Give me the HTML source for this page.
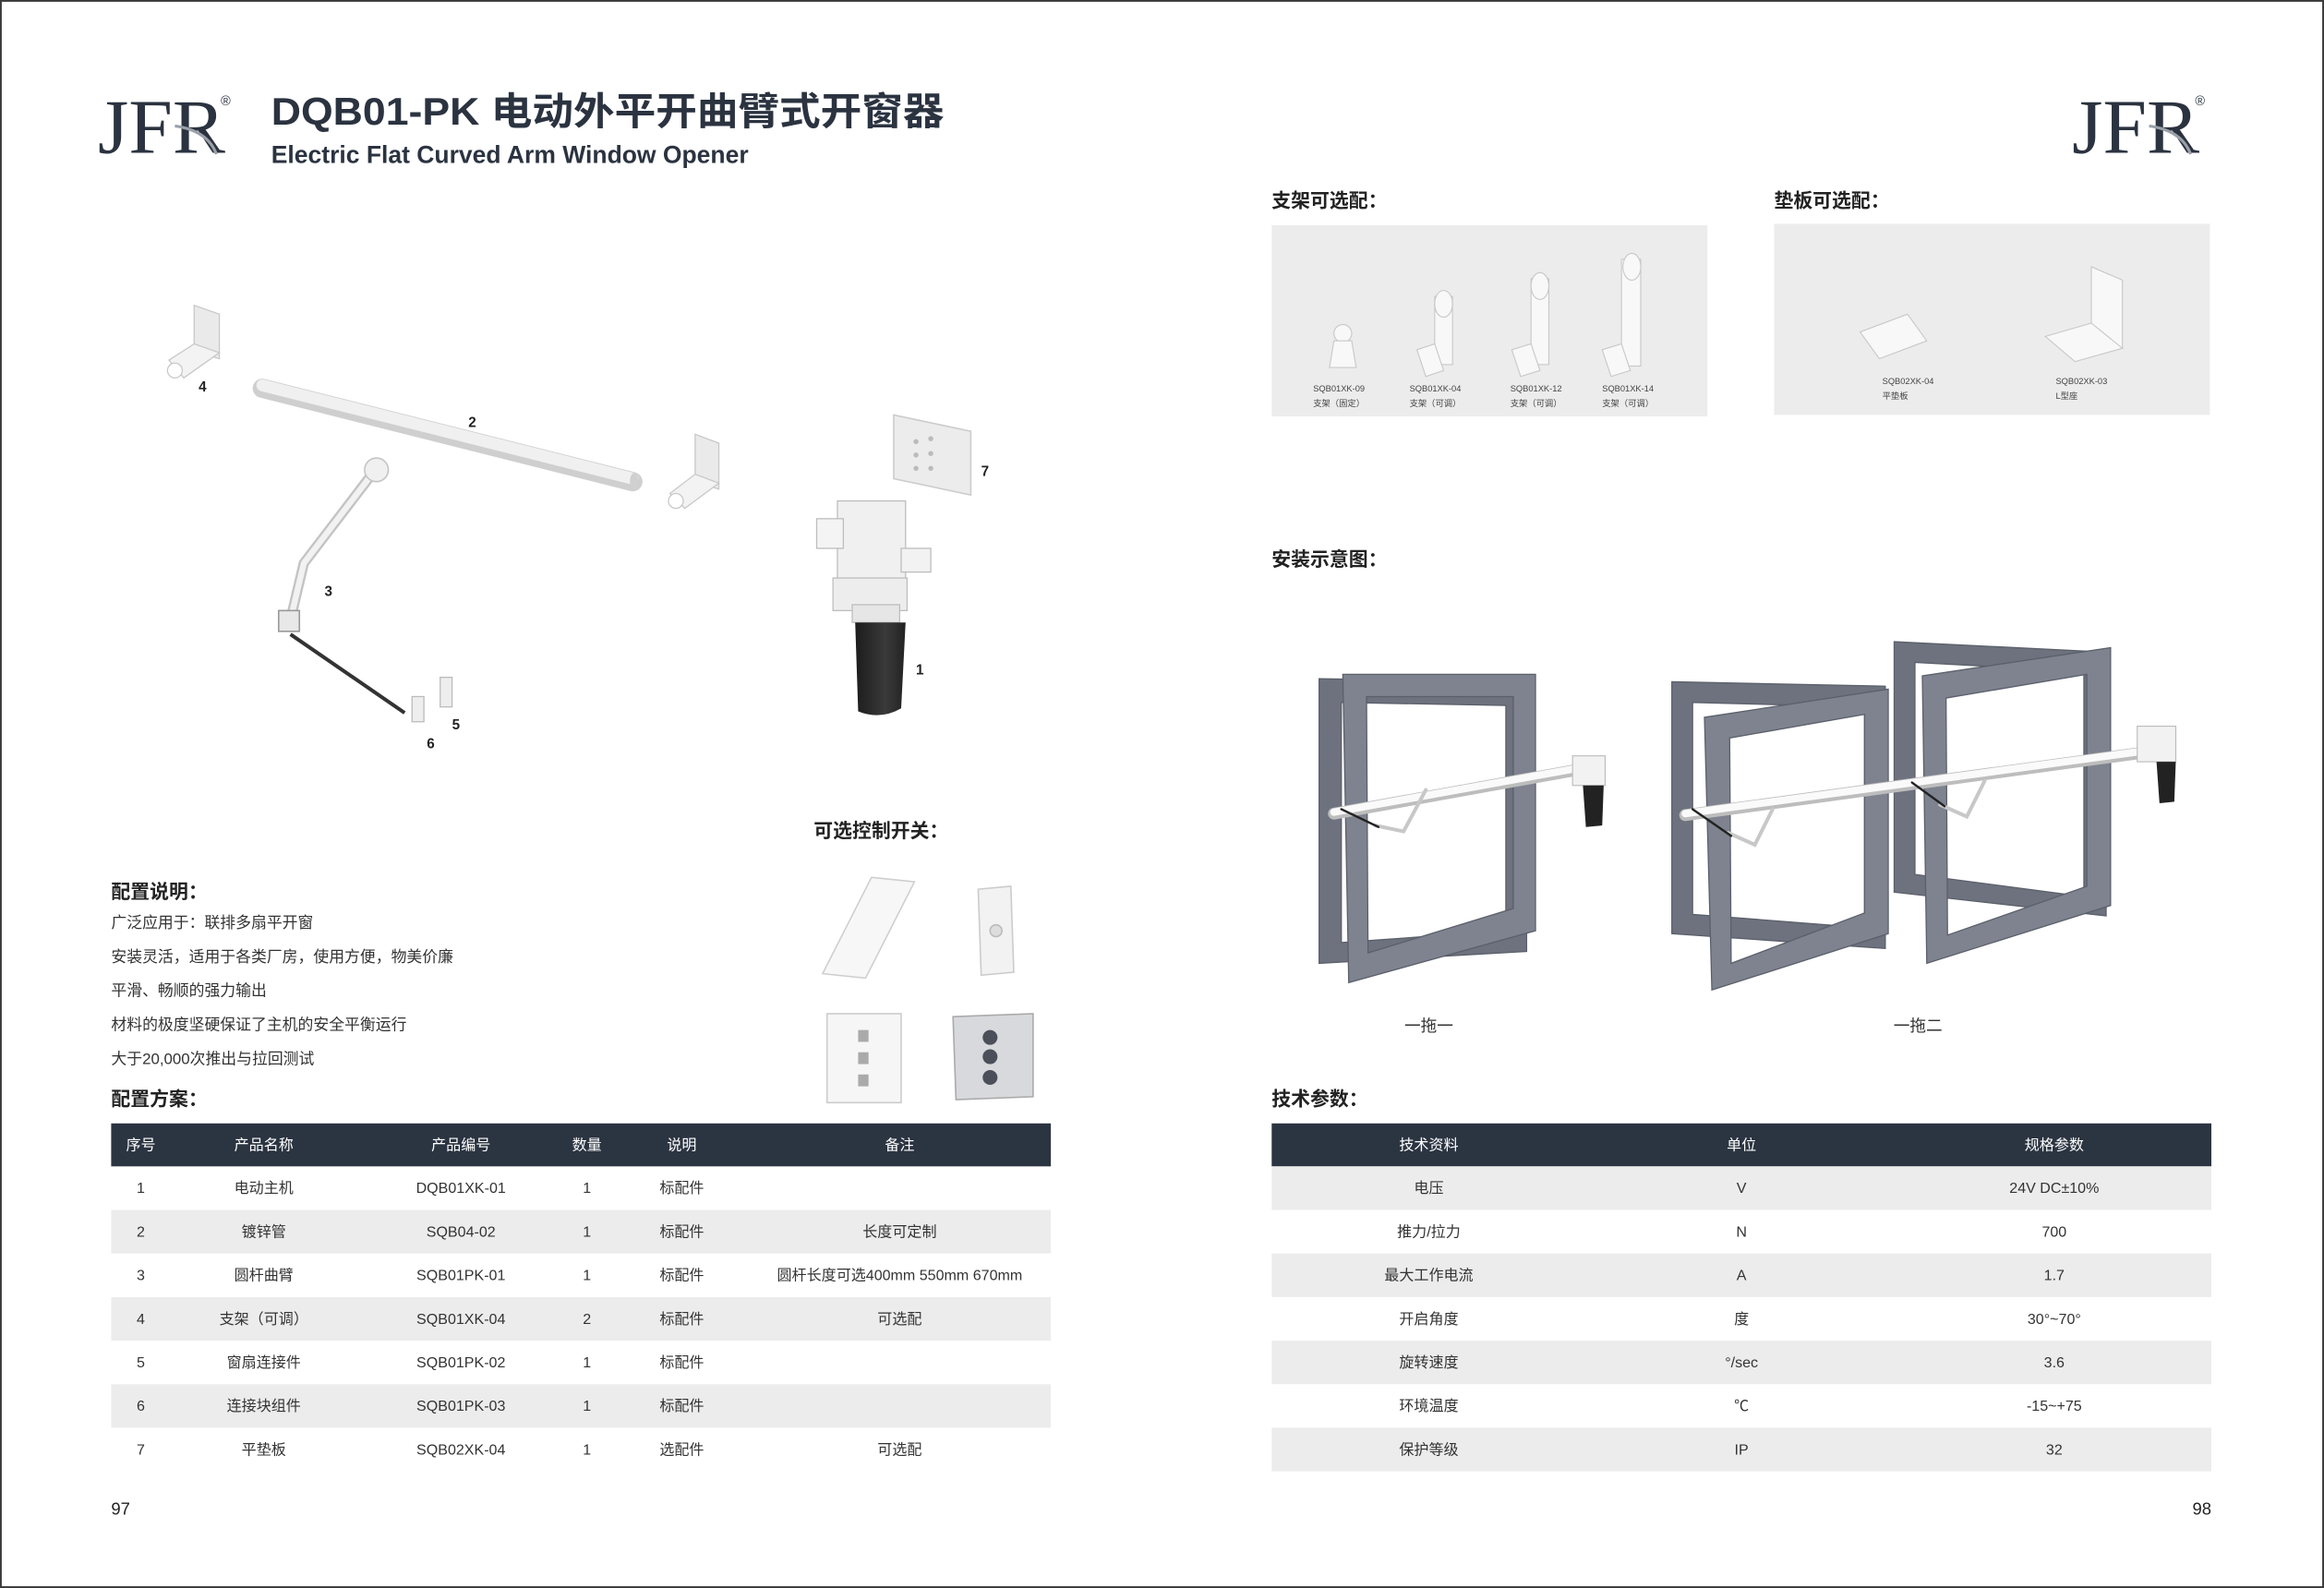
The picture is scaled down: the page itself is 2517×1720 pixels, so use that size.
<!DOCTYPE html>
<html><head><meta charset="utf-8"><style>
html,body{margin:0;padding:0;background:#fff;}
svg{display:block;}
text{font-family:"Liberation Sans","Noto Sans CJK SC",sans-serif;}
</style></head><body>
<svg width="2517" height="1720" viewBox="0 0 1568 1071.5" xmlns="http://www.w3.org/2000/svg">
<defs>
<linearGradient id="blk" x1="0" y1="0" x2="1" y2="0"><stop offset="0" stop-color="#1c1c1c"/><stop offset="0.6" stop-color="#3a3a3a"/><stop offset="1" stop-color="#222"/></linearGradient>
</defs>
<rect x="0.6" y="0.6" width="1566.8" height="1070.3" fill="#fff" stroke="#3a3a3a" stroke-width="1.2"/>

<!-- logos -->
<g fill="#2b3340">
<text x="66" y="103" style="font-family:'Liberation Serif',serif" font-size="52" textLength="86" lengthAdjust="spacingAndGlyphs">JFR</text>
<text x="149" y="71" font-size="9">®</text>
<text x="1398" y="103" style="font-family:'Liberation Serif',serif" font-size="52" textLength="86" lengthAdjust="spacingAndGlyphs">JFR</text>
<text x="1481" y="71" font-size="9">®</text>
</g>
<path d="M118 85 Q140 88 146 104" stroke="#9aa0a8" stroke-width="2" fill="none"/>
<path d="M1450 85 Q1472 88 1478 104" stroke="#9aa0a8" stroke-width="2" fill="none"/>

<text x="183" y="84" font-size="26" font-weight="bold" fill="#2b3340" textLength="454" lengthAdjust="spacingAndGlyphs">DQB01-PK 电动外平开曲臂式开窗器</text>
<text x="183" y="110" font-size="16.5" font-weight="bold" fill="#2b3340" textLength="322" lengthAdjust="spacingAndGlyphs">Electric Flat Curved Arm Window Opener</text>

<!-- exploded diagram -->
<g stroke="#c8c8c8" stroke-width="0.8">
<polygon points="131,206 148,212 148,242 131,237" fill="#eaeaea"/>
<polygon points="114,243 131,232 148,238 124,255" fill="#f3f3f3"/>
<circle cx="118" cy="250" r="5" fill="#fff"/>
<polygon points="469,293 485,299 485,330 469,325" fill="#eaeaea"/>
<polygon points="452,333 469,320 485,326 462,343" fill="#f3f3f3"/>
<circle cx="456" cy="338" r="5" fill="#fff"/>
</g>
<line x1="177" y1="262" x2="427" y2="325" stroke="#cfcfcf" stroke-width="13" stroke-linecap="round"/>
<line x1="177" y1="260" x2="427" y2="323" stroke="#f0f0f0" stroke-width="8" stroke-linecap="round"/>
<ellipse cx="428" cy="325" rx="3" ry="6" fill="#d0d0d0"/>
<polyline points="254,316 205,380 196,418" stroke="#c4c4c4" stroke-width="7" fill="none" stroke-linejoin="round"/>
<polyline points="254,316 205,380 196,418" stroke="#f2f2f2" stroke-width="4" fill="none" stroke-linejoin="round"/>
<circle cx="254" cy="317" r="8" fill="#f0f0f0" stroke="#c4c4c4"/>
<rect x="188" y="412" width="14" height="14" fill="#e8e8e8" stroke="#999"/>
<line x1="196" y1="428" x2="273" y2="481" stroke="#333" stroke-width="2.5"/>
<rect x="278" y="470" width="8" height="17" fill="#eee" stroke="#bbb" stroke-width="0.8"/>
<rect x="297" y="457" width="8" height="20" fill="#eee" stroke="#bbb" stroke-width="0.8"/>
<polygon points="603,280 655,291 655,334 603,323" fill="#ececec" stroke="#ccc"/>
<g fill="#bbb"><circle cx="618" cy="298" r="1.7"/><circle cx="628" cy="296" r="1.7"/><circle cx="618" cy="307" r="1.7"/><circle cx="628" cy="306" r="1.7"/><circle cx="618" cy="316" r="1.7"/><circle cx="628" cy="316" r="1.7"/></g>
<g stroke="#bdbdbd" stroke-width="0.8">
<rect x="565" y="338" width="46" height="60" fill="#f0f0f0"/>
<rect x="551" y="350" width="18" height="20" fill="#f4f4f4"/>
<rect x="608" y="370" width="20" height="16" fill="#f2f2f2"/>
<rect x="562" y="390" width="50" height="22" fill="#ededed"/>
<rect x="575" y="408" width="32" height="12" fill="#e6e6e6"/>
</g>
<path d="M577 420 L611 420 L608 478 Q594 486 579 480 Z" fill="url(#blk)"/>
<g font-size="9.5" font-weight="bold" fill="#222">
<text x="134" y="264">4</text><text x="316" y="288">2</text><text x="219" y="402">3</text>
<text x="305" y="492">5</text><text x="288" y="505">6</text><text x="662" y="321">7</text><text x="618" y="455">1</text>
</g>

<!-- control switches -->
<text x="549" y="565" font-size="13" font-weight="bold" fill="#222">可选控制开关：</text>
<polygon points="588,592 617,595 584,660 555,657" fill="#f7f7f7" stroke="#cfcfcf"/>
<polygon points="660,600 682,598 684,656 662,658" fill="#f2f2f2" stroke="#ccc"/>
<circle cx="672" cy="628" r="4" fill="#ddd" stroke="#bbb"/>
<rect x="558" y="684" width="50" height="60" fill="#f6f6f6" stroke="#ccc"/>
<g fill="#aaa"><rect x="579" y="695" width="7" height="8"/><rect x="579" y="710" width="7" height="8"/><rect x="579" y="725" width="7" height="8"/></g>
<polygon points="643,686 697,684 697,740 645,742" fill="#d8d9dc" stroke="#aaa"/>
<g fill="#4a4f5a"><circle cx="668" cy="700" r="5"/><circle cx="668" cy="713" r="5"/><circle cx="668" cy="727" r="5"/></g>

<!-- 配置说明 -->
<text x="75" y="606" font-size="13" font-weight="bold" fill="#222">配置说明：</text>
<g font-size="10.5" fill="#333">
<text x="75" y="626">广泛应用于：联排多扇平开窗</text>
<text x="75" y="649">安装灵活，适用于各类厂房，使用方便，物美价廉</text>
<text x="75" y="672">平滑、畅顺的强力输出</text>
<text x="75" y="695">材料的极度坚硬保证了主机的安全平衡运行</text>
<text x="75" y="718">大于20,000次推出与拉回测试</text>
</g>
<text x="75" y="746" font-size="13" font-weight="bold" fill="#222">配置方案：</text>

<!-- left table -->
<rect x="75" y="758" width="634" height="29" fill="#2b3441"/>
<g fill="#ececec">
<rect x="75" y="816.4" width="634" height="29.4"/>
<rect x="75" y="875.2" width="634" height="29.4"/>
<rect x="75" y="934" width="634" height="29.4"/>
</g>
<g font-size="10" fill="#fff" text-anchor="middle">
<text x="95" y="776">序号</text><text x="178" y="776">产品名称</text><text x="311" y="776">产品编号</text><text x="396" y="776">数量</text><text x="460" y="776">说明</text><text x="607" y="776">备注</text>
</g>
<g font-size="10" fill="#333" text-anchor="middle">
<text x="95" y="805">1</text><text x="178" y="805">电动主机</text><text x="311" y="805">DQB01XK-01</text><text x="396" y="805">1</text><text x="460" y="805">标配件</text>
<text x="95" y="834.4">2</text><text x="178" y="834.4">镀锌管</text><text x="311" y="834.4">SQB04-02</text><text x="396" y="834.4">1</text><text x="460" y="834.4">标配件</text><text x="607" y="834.4">长度可定制</text>
<text x="95" y="863.8">3</text><text x="178" y="863.8">圆杆曲臂</text><text x="311" y="863.8">SQB01PK-01</text><text x="396" y="863.8">1</text><text x="460" y="863.8">标配件</text><text x="607" y="863.8">圆杆长度可选400mm 550mm 670mm</text>
<text x="95" y="893.2">4</text><text x="178" y="893.2">支架（可调）</text><text x="311" y="893.2">SQB01XK-04</text><text x="396" y="893.2">2</text><text x="460" y="893.2">标配件</text><text x="607" y="893.2">可选配</text>
<text x="95" y="922.6">5</text><text x="178" y="922.6">窗扇连接件</text><text x="311" y="922.6">SQB01PK-02</text><text x="396" y="922.6">1</text><text x="460" y="922.6">标配件</text>
<text x="95" y="952">6</text><text x="178" y="952">连接块组件</text><text x="311" y="952">SQB01PK-03</text><text x="396" y="952">1</text><text x="460" y="952">标配件</text>
<text x="95" y="981.4">7</text><text x="178" y="981.4">平垫板</text><text x="311" y="981.4">SQB02XK-04</text><text x="396" y="981.4">1</text><text x="460" y="981.4">选配件</text><text x="607" y="981.4">可选配</text>
</g>
<text x="75" y="1022" font-size="11.5" fill="#222">97</text>
<text x="1492" y="1022" font-size="11.5" fill="#222" text-anchor="end">98</text>

<!-- right top -->
<text x="858" y="140" font-size="13" font-weight="bold" fill="#222">支架可选配：</text>
<text x="1197" y="140" font-size="13" font-weight="bold" fill="#222">垫板可选配：</text>
<rect x="858" y="152" width="294" height="129" fill="#ececec"/>
<rect x="1197" y="151" width="294" height="129" fill="#ececec"/>
<g fill="#f8f8f8" stroke="#c8c8c8" stroke-width="0.7">
<circle cx="906" cy="225" r="6"/><polygon points="900,230 912,230 915,248 897,248"/>
<rect x="968" y="200" width="12" height="46"/><ellipse cx="974" cy="205" rx="6" ry="9"/><polygon points="956,236 968,232 974,250 962,254"/>
<rect x="1033" y="188" width="12" height="58"/><ellipse cx="1039" cy="193" rx="6" ry="9"/><polygon points="1020,236 1033,232 1039,250 1026,254"/>
<rect x="1094" y="175" width="13" height="72"/><ellipse cx="1101" cy="180" rx="6" ry="9"/><polygon points="1081,236 1094,232 1100,250 1087,254"/>
<polygon points="1255,224 1287,212 1300,230 1268,242"/>
<polygon points="1411,180 1432,189 1432,235 1411,226"/><polygon points="1380,227 1411,218 1432,235 1400,244"/>
</g>
<g font-size="5.8" fill="#444">
<text x="886" y="264">SQB01XK-09</text><text x="886" y="274">支架（固定）</text>
<text x="951" y="264">SQB01XK-04</text><text x="951" y="274">支架（可调）</text>
<text x="1019" y="264">SQB01XK-12</text><text x="1019" y="274">支架（可调）</text>
<text x="1081" y="264">SQB01XK-14</text><text x="1081" y="274">支架（可调）</text>
<text x="1270" y="259">SQB02XK-04</text><text x="1270" y="269">平垫板</text>
<text x="1387" y="259">SQB02XK-03</text><text x="1387" y="269">L型座</text>
</g>

<!-- install -->
<text x="858" y="382" font-size="13" font-weight="bold" fill="#222">安装示意图：</text>
<g fill-rule="evenodd" stroke="#5a5f6a" stroke-width="0.8">
<path d="M890 458 L1030 460 L1030 642 L890 650 Z M905 474 L1016 476 L1016 628 L905 636 Z" fill="#6d727e"/>
<path d="M906 455 L1036 455 L1036 628 L910 663 Z M922 470 L1021 470 L1021 613 L923 643 Z" fill="#7e838f"/>
<path d="M1128 460 L1272 463 L1272 640 L1128 630 Z M1142 474 L1258 477 L1258 626 L1142 617 Z" fill="#6d727e"/>
<path d="M1150 484 L1274 465 L1274 630 L1155 668 Z M1167 498 L1258 482 L1258 616 L1168 650 Z" fill="#7e838f"/>
<path d="M1278 433 L1421 440 L1421 618 L1278 602 Z M1292 447 L1406 453 L1406 605 L1292 590 Z" fill="#6d727e"/>
<path d="M1297 456 L1424 437 L1424 611 L1300 650 Z M1313 471 L1408 455 L1408 598 L1314 631 Z" fill="#7e838f"/>
</g>
<g fill="none" stroke-linecap="round">
<line x1="900" y1="549" x2="1072" y2="518" stroke="#bdbdbd" stroke-width="8"/>
<line x1="900" y1="548" x2="1072" y2="517" stroke="#fafafa" stroke-width="5"/>
<polyline points="962,533 947,561 928,557" stroke="#c8c8c8" stroke-width="2.5"/>
<line x1="905" y1="546" x2="930" y2="558" stroke="#222" stroke-width="1.5"/>
<line x1="1137" y1="550" x2="1452" y2="507" stroke="#bdbdbd" stroke-width="8"/>
<line x1="1137" y1="549" x2="1452" y2="506" stroke="#fafafa" stroke-width="5"/>
<polyline points="1196,546 1184,570 1166,562" stroke="#c8c8c8" stroke-width="2.5"/>
<polyline points="1339,527 1327,551 1309,543" stroke="#c8c8c8" stroke-width="2.5"/>
<line x1="1142" y1="546" x2="1168" y2="564" stroke="#222" stroke-width="1.5"/>
<line x1="1290" y1="528" x2="1312" y2="544" stroke="#222" stroke-width="1.5"/>
</g>
<rect x="1061" y="510" width="22" height="20" fill="#f2f2f2" stroke="#bbb" stroke-width="0.7"/>
<path d="M1068 530 L1082 530 L1081 557 L1070 558 Z" fill="#222"/>
<rect x="1442" y="490" width="26" height="24" fill="#f2f2f2" stroke="#bbb" stroke-width="0.7"/>
<path d="M1455 514 L1468 514 L1467 541 L1457 542 Z" fill="#222"/>
<g font-size="11" fill="#333" text-anchor="middle"><text x="964" y="696">一拖一</text><text x="1294" y="696">一拖二</text></g>

<!-- right table -->
<text x="858" y="746" font-size="13" font-weight="bold" fill="#222">技术参数：</text>
<rect x="858" y="758" width="634" height="29" fill="#2b3441"/>
<g fill="#ececec">
<rect x="858" y="787" width="634" height="29.4"/>
<rect x="858" y="845.8" width="634" height="29.4"/>
<rect x="858" y="904.6" width="634" height="29.4"/>
<rect x="858" y="963.4" width="634" height="29.4"/>
</g>
<g font-size="10" fill="#fff" text-anchor="middle"><text x="964" y="776">技术资料</text><text x="1175" y="776">单位</text><text x="1386" y="776">规格参数</text></g>
<g font-size="10" fill="#333" text-anchor="middle">
<text x="964" y="805">电压</text><text x="1175" y="805">V</text><text x="1386" y="805">24V DC±10%</text>
<text x="964" y="834.4">推力/拉力</text><text x="1175" y="834.4">N</text><text x="1386" y="834.4">700</text>
<text x="964" y="863.8">最大工作电流</text><text x="1175" y="863.8">A</text><text x="1386" y="863.8">1.7</text>
<text x="964" y="893.2">开启角度</text><text x="1175" y="893.2">度</text><text x="1386" y="893.2">30°~70°</text>
<text x="964" y="922.6">旋转速度</text><text x="1175" y="922.6">°/sec</text><text x="1386" y="922.6">3.6</text>
<text x="964" y="952">环境温度</text><text x="1175" y="952">℃</text><text x="1386" y="952">-15~+75</text>
<text x="964" y="981.4">保护等级</text><text x="1175" y="981.4">IP</text><text x="1386" y="981.4">32</text>
</g>
</svg>
</body></html>
